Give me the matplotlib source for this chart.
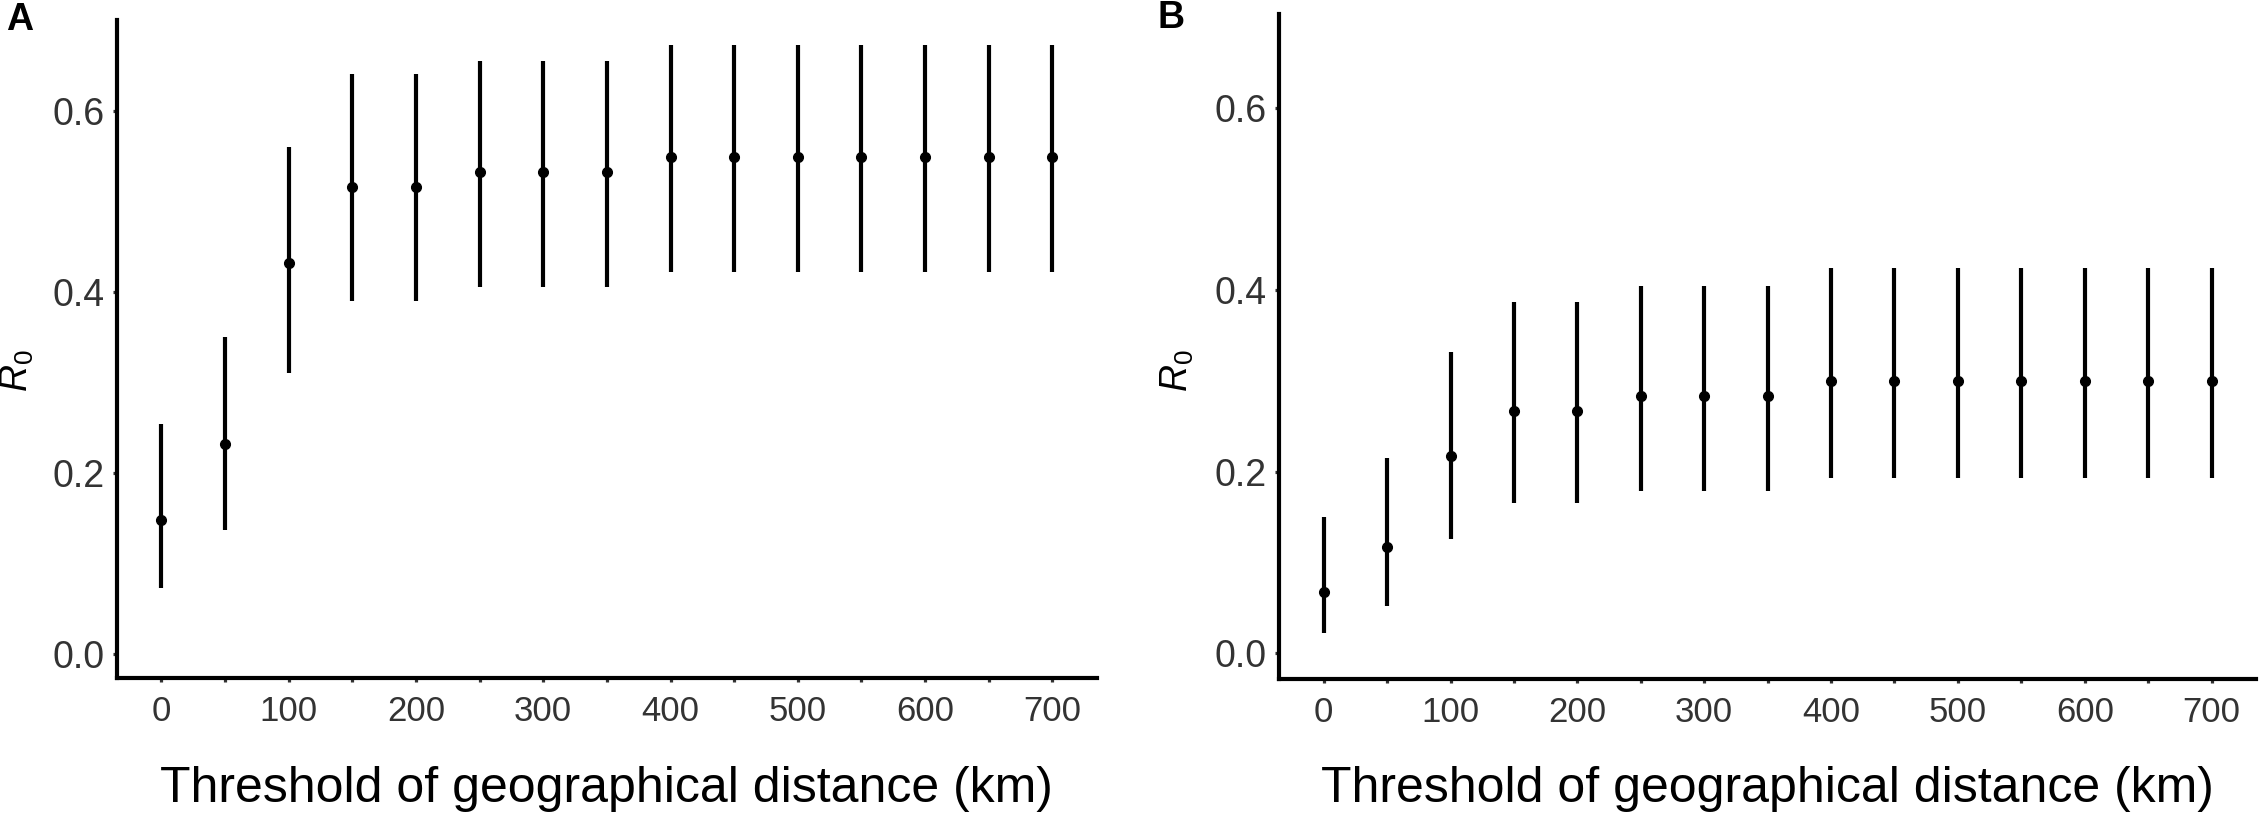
import numpy as np
import matplotlib
matplotlib.use("Agg")
import matplotlib.pyplot as plt

plt.rcParams['font.family'] = ['Liberation Sans', 'DejaVu Sans']
plt.rcParams['mathtext.fontset'] = 'custom'
plt.rcParams['mathtext.rm'] = 'Liberation Sans'
plt.rcParams['mathtext.it'] = 'Liberation Sans:italic'

# threshold of geographical distance (km)
dist = [0, 50, 100, 150, 200, 250, 300, 350, 400, 450, 500, 550, 600, 650, 700]

# panel A: R0 estimate with lower / upper bounds
a_est = [0.148, 0.2315, 0.432, 0.515, 0.515, 0.532, 0.532, 0.532,
         0.549, 0.549, 0.549, 0.549, 0.549, 0.549, 0.549]
a_lo = [0.072, 0.1365, 0.310, 0.389, 0.389, 0.405, 0.405, 0.405,
        0.422, 0.422, 0.422, 0.422, 0.422, 0.422, 0.422]
a_hi = [0.2536, 0.350, 0.560, 0.640, 0.640, 0.655, 0.655, 0.655,
        0.672, 0.672, 0.672, 0.672, 0.672, 0.672, 0.672]

# panel B
b_est = [0.068, 0.117, 0.217, 0.267, 0.267, 0.283, 0.283, 0.283,
         0.300, 0.300, 0.300, 0.300, 0.300, 0.300, 0.300]
b_lo = [0.022, 0.052, 0.1255, 0.166, 0.166, 0.179, 0.179, 0.179,
        0.193, 0.193, 0.193, 0.193, 0.193, 0.193, 0.193]
b_hi = [0.150, 0.2147, 0.332, 0.387, 0.387, 0.405, 0.405, 0.405,
        0.424, 0.424, 0.424, 0.424, 0.424, 0.424, 0.424]

xticks = [0, 100, 200, 300, 400, 500, 600, 700]
yticks = [0.0, 0.2, 0.4, 0.6]
xlabel = 'Threshold of geographical distance (km)'

W, H = 2265, 816
fig = plt.figure(figsize=(W / 100, H / 100), dpi=100)

# axes boxes in pixels: left, right, top, bottom
boxes = [(116.7, 1097, 20, 678), (1279.3, 2256, 14, 679.3)]
panels = [(a_est, a_lo, a_hi, 'A', (-0.027, 0.700)),
          (b_est, b_lo, b_hi, 'B', (-0.0286, 0.704))]
tags = [(6, 20), (1158, 18)]
ylab_x = [17, 1177]

for (l, r, t, b), (est, lo, hi, tag, ylim), tg, yx in zip(boxes, panels, tags, ylab_x):
    ax = fig.add_axes([l / W, 1 - b / H, (r - l) / W, (b - t) / H])
    ax.vlines(dist, lo, hi, color='black', lw=3.0, capstyle='butt')
    ax.plot(dist, est, 'o', color='black', ms=7)
    ax.set_xlim(-35, 735)
    ax.set_ylim(*ylim)
    ax.set_xticks(xticks)
    ax.set_xticks(dist, minor=True)
    ax.set_yticks(yticks)
    ax.set_yticklabels(['0.0', '0.2', '0.4', '0.6'])
    for s in ['top', 'right']:
        ax.spines[s].set_visible(False)
    for s in ['left', 'bottom']:
        ax.spines[s].set_linewidth(3.0)
        ax.spines[s].set_capstyle('projecting')
    ax.tick_params(axis='both', which='major', length=3, width=2.3,
                   color='#333333', labelcolor='#333333')
    ax.tick_params(axis='x', which='minor', length=3, width=2.3, color='#333333')
    ax.tick_params(axis='x', which='major', pad=9, labelsize=25)
    ax.tick_params(axis='y', which='major', pad=6, labelsize=27)
    cx = (l + r) / 2
    fig.text(cx / W, 1 - 802 / H, xlabel, ha='center', va='baseline',
             fontsize=36, color='black')
    fig.text(yx / W, 1 - 371 / H, r'$\it{R}_0$', rotation=90,
             ha='center', va='center', fontsize=27, color='black')
    fig.text(tg[0] / W, 1 - tg[1] / H, tag, ha='left', va='center',
             fontsize=27, fontweight='bold')

fig.savefig('out.png', dpi=100)
